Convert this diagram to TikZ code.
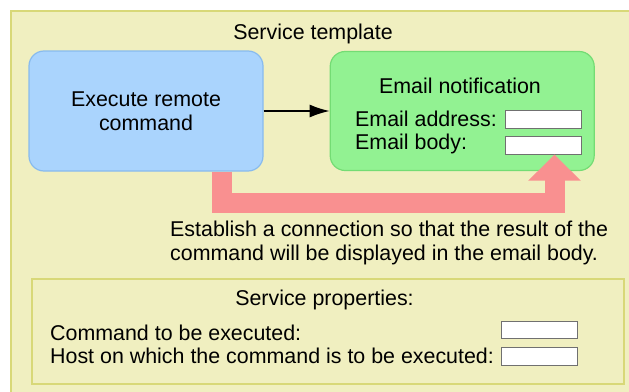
\documentclass[tikz,border=0pt]{standalone}
\usepackage{fontspec}
\setmainfont{Liberation Sans}
\usetikzlibrary{arrows.meta,positioning}
\definecolor{tplfill}{HTML}{F0EFC0}
\definecolor{tplline}{HTML}{D8D878}
\definecolor{runfill}{HTML}{AAD4FD}
\definecolor{runline}{HTML}{88BBEE}
\definecolor{mailfill}{HTML}{92F292}
\definecolor{mailline}{HTML}{74DC74}
\definecolor{linkpink}{HTML}{F99090}
\definecolor{fieldline}{HTML}{707070}

\begin{document}
\begin{tikzpicture}[x=1pt,y=-1pt,>={Latex[length=20pt,width=13pt]},font=\fontsize{21.4}{23.5}\selectfont]
        \tikzset{frame/.style={draw=tplline, fill=tplfill, line width=1.5pt},
        rblock/.style={draw, shape=rectangle, rounded corners=15pt, align=center, line width=1.2pt},
        field/.style={draw=fieldline, fill=white, rectangle, inner sep=0pt, minimum width=76pt, minimum height=17.5pt, line width=0.8pt},
        label/.style={anchor=base west, inner sep=0pt},
        title/.style={anchor=base, inner sep=0pt},
        link/.style={draw=linkpink, line width=20pt, -{Triangle[length=26pt,width=51pt]}}
        }
        \useasboundingbox (0,0) rectangle (629,391);
        \draw[frame] (11,11) rectangle (650,410);
        \node [title] (tpl) at (313,39) {Service template};
        \node [rblock, draw=runline, fill=runfill, minimum width=234pt, minimum height=120pt] (run) at (146,111) {Execute remote\\command};
        \node [rblock, draw=mailline, fill=mailfill, minimum width=264pt, minimum height=119pt, right =66pt of run] (mail) {};
        \node [title] (mailtitle) at (460,93) {Email notification};
        \node [label] (addr) at (355,126) {Email address:};
        \node [label] (body) at (355,149.5) {Email body:};
        \node [field] (addrfield) at (543.5,119.5) {};
        \node [field] (bodyfield) at (543.5,145.5) {};
        \node [anchor=north west, align=left, inner sep=0pt] (note) at (170,221) {Establish a connection so that the result of the\\command will be displayed in the email body.};
        \node [frame, rectangle, minimum width=592pt, minimum height=105pt, inner sep=0pt] (props) at (328,331.5) {};
        \node [title] (propstitle) at (324.5,305) {Service properties:};
        \node [label] (cmd) at (50,340) {Command to be executed:};
        \node [label] (host) at (50,363) {Host on which the command is to be executed:};
        \node [field] (cmdfield) at (539.5,330) {};
        \node [field] (hostfield) at (539.5,356.5) {};
%% paths
        \draw[->, line width=1.5pt] (run) -- (mail);
        \draw[link] ([xshift=75.5pt]run.south) |- ([xshift=11pt,yshift=-48pt]bodyfield.south) -- ([xshift=11pt]bodyfield.south);
\end{tikzpicture}
\end{document}
